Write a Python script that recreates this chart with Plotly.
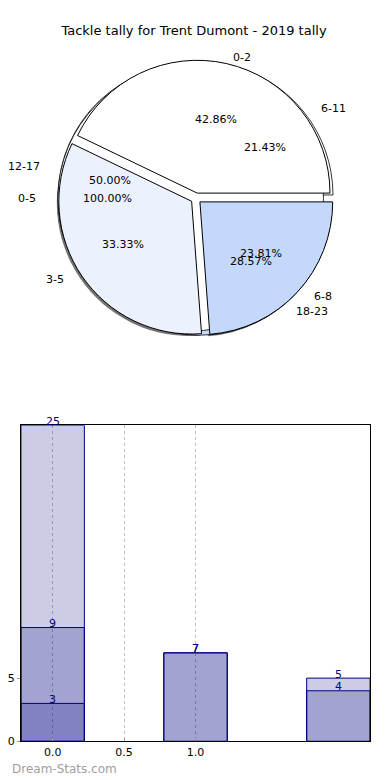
import math
import plotly.graph_objects as go

# ---------------- data ----------------
title_text = "Tackle tally for Trent Dumont - 2019 tally"

pie_a_labels = ["0-2", "3-5", "6-8"]
pie_a_values = [9, 7, 5]
pie_b_labels = ["6-11", "12-17", "18-23"]
pie_b_values = [3, 7, 4]
pie_c_labels = ["0-5"]
pie_c_values = [1]
pie_colors = ["#ffffff", "#ebf1fd", "#c4d8fc"]

bar_x = [0, 1, 2]
bar_s1 = [25, 7, 5]
bar_s2 = [9, 7, 4]
bar_s3 = [3, None, None]
x_tickvals = [0, 0.5, 1.0]
x_ticktext = ["0.0", "0.5", "1.0"]
y_tickvals = [0, 5]

watermark = "Dream-Stats.com"

# ---------------- layout constants ----------------
OFFX = 8                    # horizontal page body margin
W, H = 390 - OFFX, 780
FONT = "DejaVu Sans"


def fx(sx):
    return sx - OFFX


def fy(sy):
    return sy


CX, CY = fx(195), fy(192)   # pie centre (figure px)
R = 134                     # pie radius (px)
PULL = 0.04
RX, RY = 139, 128           # label placement scale (px)

half = R * (1 + PULL)


def pie_domain(dx=0, dy=0):
    return dict(
        x=[(CX - half + dx) / W, (CX + half + dx) / W],
        y=[(H - CY - half - dy) / H, (H - CY + half - dy) / H],
    )


def start_rotation(values):
    # plotly counterclockwise pies end their first slice at `rotation`;
    # shift so the first slice starts at 3 o'clock like matplotlib
    return 90 - 360.0 * values[0] / sum(values)


fig = go.Figure()

common_pie = dict(sort=False, direction="counterclockwise",
                  textinfo="none", hoverinfo="skip", showlegend=False)

# shadow
fig.add_trace(go.Pie(labels=pie_a_labels, values=pie_a_values,
                     pull=[PULL] * len(pie_a_values),
                     rotation=start_rotation(pie_a_values),
                     marker=dict(colors=["rgba(0,0,0,0.55)"] * len(pie_a_values),
                                 line=dict(width=0)),
                     domain=pie_domain(-2, 2), **common_pie))
# pie B
fig.add_trace(go.Pie(labels=pie_b_labels, values=pie_b_values,
                     pull=[PULL] * len(pie_b_values),
                     rotation=start_rotation(pie_b_values),
                     marker=dict(colors=pie_colors[:len(pie_b_values)],
                                 line=dict(color="black", width=0.8)),
                     domain=pie_domain(), **common_pie))
# pie C
fig.add_trace(go.Pie(labels=pie_c_labels, values=pie_c_values,
                     pull=[PULL] * len(pie_c_values),
                     rotation=start_rotation(pie_c_values),
                     marker=dict(colors=pie_colors[:len(pie_c_values)],
                                 line=dict(color="black", width=0.8)),
                     domain=pie_domain(), **common_pie))
# pie A (top)
fig.add_trace(go.Pie(labels=pie_a_labels, values=pie_a_values,
                     pull=[PULL] * len(pie_a_values),
                     rotation=start_rotation(pie_a_values),
                     marker=dict(colors=pie_colors[:len(pie_a_values)],
                                 line=dict(color="black", width=1)),
                     domain=pie_domain(), **common_pie))

# pie labels as annotations on an invisible overlay axis (top band only)
TOP_H = 380
annotations = []
for labels, values in [(pie_a_labels, pie_a_values),
                       (pie_b_labels, pie_b_values),
                       (pie_c_labels, pie_c_values)]:
    total = sum(values)
    cum = 0
    for lab, v in zip(labels, values):
        t1 = 360 * cum / total
        cum += v
        t2 = 360 * cum / total
        tm = math.radians((t1 + t2) / 2)
        c, s = math.cos(tm), math.sin(tm)
        annotations.append(dict(
            x=(1.1 + PULL) * c, y=(1.1 + PULL) * s, xref="x2", yref="y2",
            text=lab, showarrow=False,
            xanchor="left" if c > 0 else "right", yanchor="middle",
            font=dict(family=FONT, size=11, color="black")))
        annotations.append(dict(
            x=(0.6 + PULL) * c, y=(0.6 + PULL) * s, xref="x2", yref="y2",
            text="%.2f%%" % (100.0 * v / total), showarrow=False,
            xanchor="center", yanchor="middle",
            font=dict(family=FONT, size=11, color="black")))

fig.add_trace(go.Scatter(x=[0], y=[0], xaxis="x2", yaxis="y2", mode="markers",
                         marker=dict(opacity=0), hoverinfo="skip",
                         showlegend=False))

# ---------------- bars ----------------
bar_fill = "rgba(0,0,128,0.2)"
for series in [bar_s1, bar_s2, bar_s3]:
    fig.add_trace(go.Bar(x=bar_x, y=series, width=0.444,
                         marker=dict(color=bar_fill,
                                     line=dict(color="#000080", width=1)),
                         hoverinfo="skip", showlegend=False,
                         xaxis="x", yaxis="y"))
    for xv, yv in zip(bar_x, series):
        if yv is None:
            continue
        annotations.append(dict(
            x=xv, y=yv, xref="x", yref="y", text=str(yv), showarrow=False,
            xanchor="center", yanchor="middle", yshift=4,
            font=dict(family=FONT, size=11, color="#000080")))

annotations.append(dict(
    x=0, y=0, xref="paper", yref="paper", xanchor="left", yanchor="bottom",
    text=watermark, showarrow=False, yshift=3,
    font=dict(family=FONT, size=12, color="#a0a0a0")))

fig.update_layout(
    width=W, height=H,
    margin=dict(l=0, r=0, t=0, b=0),
    paper_bgcolor="white", plot_bgcolor="rgba(0,0,0,0)",
    barmode="overlay",
    font=dict(family=FONT, size=11, color="black"),
    title=dict(text=title_text, x=fx(194) / W, xanchor="center",
               y=1 - 22 / H, yanchor="middle",
               font=dict(family=FONT, size=13, color="black")),
    xaxis=dict(domain=[fx(19) / W, fx(370) / W], range=[-0.222, 2.222],
               tickvals=x_tickvals, ticktext=x_ticktext,
               showgrid=True, gridcolor="#bdbdbd", griddash="dot", gridwidth=1,
               zeroline=False, showline=True, mirror=True, linecolor="black",
               linewidth=1, ticks="inside", ticklen=3, tickcolor="#999",
               tickfont=dict(family=FONT, size=11, color="black"),
               fixedrange=True),
    yaxis=dict(domain=[(H - fy(740)) / H, (H - fy(421)) / H], range=[0, 25],
               tickvals=y_tickvals, showgrid=False, zeroline=False,
               showline=True, mirror=True, linecolor="black", linewidth=1,
               ticks="outside", ticklen=3, tickcolor="#999",
               tickfont=dict(family=FONT, size=11, color="black"),
               fixedrange=True),
    xaxis2=dict(domain=[0, 1], range=[-CX / RX, (W - CX) / RX], visible=False,
                anchor="y2", fixedrange=True),
    yaxis2=dict(domain=[1 - TOP_H / H, 1], range=[(CY - TOP_H) / RY, CY / RY],
                visible=False, anchor="x2", fixedrange=True),
    annotations=annotations,
)

fig.write_html("out.html")
